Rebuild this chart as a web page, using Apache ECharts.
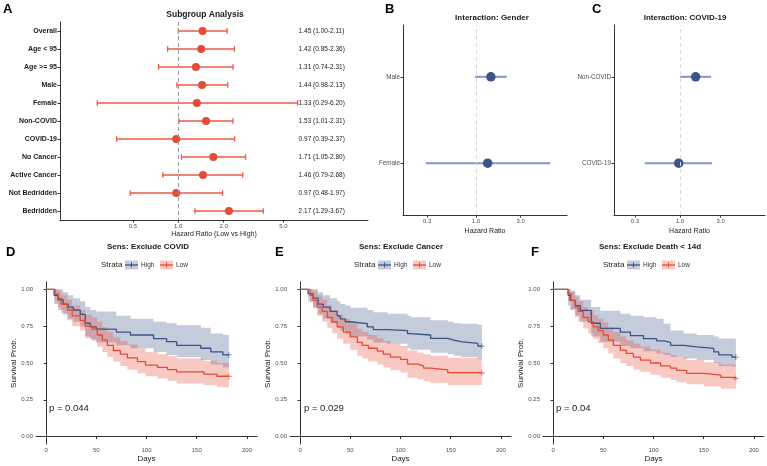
<!DOCTYPE html>
<html>
<head>
<meta charset="utf-8">
<script src="https://cdn.jsdelivr.net/npm/echarts@6/dist/echarts.min.js"></script>
<style>
  html, body { margin: 0; padding: 0; background: #fff; }
  #chart { width: 767px; height: 466px; }
</style>
</head>
<body>
<div id="chart"></div>
<script>
// ---------- A: subgroup forest plot ----------
const subgroups = ['Overall', 'Age < 95', 'Age >= 95', 'Male', 'Female', 'Non-COVID',
  'COVID-19', 'No Cancer', 'Active Cancer', 'Not Bedridden', 'Bedridden'];
const subHr = [1.45, 1.42, 1.31, 1.44, 1.33, 1.53, 0.97, 1.71, 1.46, 0.97, 2.17];
const subLo = [1.00, 0.85, 0.74, 0.98, 0.29, 1.01, 0.39, 1.05, 0.79, 0.48, 1.29];
const subHi = [2.11, 2.36, 2.31, 2.13, 6.20, 2.31, 2.37, 2.80, 2.68, 1.97, 3.67];
const subTicks = [0.5, 1, 2, 5];

// ---------- B: interaction gender ----------
const genderCats = ['Female', 'Male'];
const genderHr = [1.33, 1.44];
const genderLo = [0.29, 0.98];
const genderHi = [6.20, 2.13];

// ---------- C: interaction covid ----------
const covidCats = ['COVID-19', 'Non-COVID'];
const covidHr = [0.97, 1.53];
const covidLo = [0.39, 1.01];
const covidHi = [2.37, 2.31];
const interTicks = [0.3, 1, 3];

// ---------- D/E/F: Kaplan-Meier ----------
const dayTicks = [0, 50, 100, 150, 200];
const survTicks = [0, 0.25, 0.5, 0.75, 1];
const kmTitles = ['Sens: Exclude COVID', 'Sens: Exclude Cancer', 'Sens: Exclude Death < 14d'];
const kmPvalues = ['p = 0.044', 'p = 0.029', 'p = 0.04'];

// D - high / low
const dHighT  = [0, 8, 12, 17, 22, 27, 34, 39, 44, 50, 70, 84, 107, 120, 130, 154, 164, 176, 182];
const dHighS  = [1, 0.96, 0.93, 0.90, 0.88, 0.86, 0.83, 0.77, 0.745, 0.73, 0.71, 0.69, 0.665, 0.645, 0.62, 0.60, 0.575, 0.555, 0.555];
const dHighLo = [1, 0.90, 0.86, 0.83, 0.80, 0.78, 0.75, 0.68, 0.66, 0.64, 0.62, 0.60, 0.575, 0.555, 0.54, 0.52, 0.49, 0.47, 0.47];
const dHighUp = [1, 1, 1, 0.98, 0.96, 0.94, 0.92, 0.88, 0.86, 0.85, 0.82, 0.80, 0.78, 0.77, 0.757, 0.74, 0.70, 0.69, 0.69];
const dLowT  = [0, 9, 12, 15, 21, 26, 34, 39, 46, 51, 56, 61, 67, 74, 81, 91, 99, 111, 121, 130, 157, 170, 182];
const dLowS  = [1, 0.97, 0.94, 0.90, 0.86, 0.82, 0.79, 0.75, 0.73, 0.69, 0.655, 0.62, 0.585, 0.56, 0.535, 0.51, 0.485, 0.47, 0.455, 0.44, 0.425, 0.41, 0.41];
const dLowLo = [1, 0.92, 0.88, 0.84, 0.79, 0.75, 0.72, 0.67, 0.65, 0.61, 0.575, 0.54, 0.51, 0.48, 0.455, 0.43, 0.41, 0.395, 0.38, 0.36, 0.35, 0.335, 0.33];
const dLowUp = [1, 1, 0.99, 0.96, 0.93, 0.89, 0.86, 0.83, 0.81, 0.78, 0.745, 0.71, 0.675, 0.65, 0.625, 0.60, 0.575, 0.56, 0.545, 0.53, 0.515, 0.50, 0.50];

// E - high / low
const eHighT  = [0, 8, 13, 18, 23, 30, 37, 40, 45, 50, 67, 73, 87, 107, 110, 130, 147, 153, 160, 177, 181];
const eHighS  = [1, 0.97, 0.94, 0.90, 0.88, 0.85, 0.82, 0.80, 0.78, 0.767, 0.745, 0.727, 0.72, 0.70, 0.69, 0.667, 0.655, 0.645, 0.633, 0.615, 0.615];
const eHighLo = [1, 0.92, 0.88, 0.83, 0.80, 0.77, 0.74, 0.72, 0.70, 0.68, 0.66, 0.64, 0.63, 0.60, 0.59, 0.57, 0.56, 0.55, 0.54, 0.53, 0.53];
const eHighUp = [1, 1, 1, 0.98, 0.96, 0.94, 0.92, 0.90, 0.89, 0.875, 0.86, 0.845, 0.835, 0.82, 0.81, 0.79, 0.78, 0.77, 0.767, 0.76, 0.76];
const eLowT  = [0, 10, 13, 17, 22, 27, 32, 37, 43, 50, 57, 62, 68, 77, 83, 90, 100, 107, 117, 123, 130, 147, 181];
const eLowS  = [1, 0.96, 0.925, 0.88, 0.85, 0.81, 0.78, 0.745, 0.71, 0.677, 0.64, 0.62, 0.60, 0.58, 0.56, 0.54, 0.525, 0.493, 0.48, 0.465, 0.453, 0.435, 0.432];
const eLowLo = [1, 0.91, 0.87, 0.82, 0.78, 0.74, 0.70, 0.665, 0.63, 0.59, 0.55, 0.53, 0.51, 0.49, 0.47, 0.45, 0.435, 0.40, 0.39, 0.375, 0.365, 0.35, 0.345];
const eLowUp = [1, 1, 0.99, 0.96, 0.93, 0.89, 0.86, 0.83, 0.80, 0.77, 0.73, 0.71, 0.69, 0.67, 0.65, 0.63, 0.615, 0.585, 0.57, 0.56, 0.55, 0.535, 0.535];

// F - high / low
const fHighT  = [0, 15, 17, 22, 27, 38, 47, 67, 77, 90, 103, 110, 117, 130, 143, 160, 165, 178, 182];
const fHighS  = [1, 0.96, 0.925, 0.89, 0.857, 0.77, 0.735, 0.71, 0.686, 0.665, 0.65, 0.64, 0.62, 0.61, 0.60, 0.575, 0.555, 0.54, 0.54];
const fHighLo = [1, 0.89, 0.86, 0.82, 0.78, 0.68, 0.645, 0.615, 0.60, 0.58, 0.565, 0.555, 0.54, 0.53, 0.52, 0.50, 0.48, 0.475, 0.475];
const fHighUp = [1, 1, 0.99, 0.96, 0.93, 0.88, 0.855, 0.835, 0.82, 0.81, 0.80, 0.767, 0.72, 0.70, 0.69, 0.68, 0.667, 0.667, 0.667];
const fLowT  = [0, 15, 18, 22, 25, 30, 35, 40, 45, 50, 55, 60, 67, 73, 80, 87, 97, 107, 117, 123, 133, 150, 167, 182];
const fLowS  = [1, 0.97, 0.925, 0.88, 0.85, 0.81, 0.78, 0.745, 0.72, 0.69, 0.655, 0.62, 0.588, 0.565, 0.54, 0.52, 0.50, 0.48, 0.465, 0.45, 0.43, 0.418, 0.403, 0.396];
const fLowLo = [1, 0.92, 0.865, 0.81, 0.78, 0.735, 0.70, 0.665, 0.635, 0.60, 0.565, 0.53, 0.50, 0.48, 0.455, 0.44, 0.42, 0.40, 0.385, 0.37, 0.355, 0.34, 0.325, 0.318];
const fLowUp = [1, 1, 0.98, 0.95, 0.92, 0.88, 0.855, 0.825, 0.80, 0.775, 0.745, 0.71, 0.68, 0.655, 0.63, 0.61, 0.59, 0.57, 0.555, 0.54, 0.52, 0.505, 0.49, 0.485];

// ---------- style ----------
const FONT = '"Liberation Sans", Arial, sans-serif';
const RED = '#E64B35';
const BLUE = '#3C5488';
const BLUE_BAR = '#8197C9';
const BLUE_BAND = 'rgba(60,84,136,0.3)';
const RED_BAND = 'rgba(230,75,53,0.3)';
const AXIS = '#333333';
const TICK_TXT = '#4D4D4D';

const chart = echarts.init(document.getElementById('chart'));

function axisBase(grid) {
  return {
    gridIndex: grid,
    axisLine: { show: true, lineStyle: { color: AXIS, width: 1 } },
    splitLine: { show: false },
    minorTick: { show: false }
  };
}

function logX(grid, min, max, ticks, name, gap) {
  return Object.assign(axisBase(grid), {
    type: 'log', logBase: 10, min: min, max: max,
    name: name, nameLocation: 'middle', nameGap: gap,
    nameTextStyle: { fontSize: 7, color: '#222', fontFamily: FONT },
    axisTick: { show: true, length: 2.5, lineStyle: { color: AXIS }, customValues: ticks },
    axisLabel: { fontSize: 6, color: TICK_TXT, margin: 3, fontFamily: FONT,
      customValues: ticks, formatter: v => Number(v).toFixed(1) }
  });
}

function interY(grid, cats) {
  return Object.assign(axisBase(grid), {
    type: 'value', min: 0.4, max: 2.6,
    axisTick: { show: true, length: 2.5, lineStyle: { color: AXIS }, customValues: [1, 2] },
    axisLabel: { fontSize: 6.3, color: TICK_TXT, margin: 3, fontFamily: FONT,
      customValues: [1, 2], formatter: v => cats[Math.round(v) - 1] }
  });
}

function kmX(grid) {
  return Object.assign(axisBase(grid), {
    type: 'value', min: -10, max: 210,
    name: 'Days', nameLocation: 'middle', nameGap: 11,
    nameTextStyle: { fontSize: 8, color: '#222', fontFamily: FONT },
    axisTick: { show: true, length: 2.5, lineStyle: { color: AXIS }, customValues: dayTicks },
    axisLabel: { fontSize: 6, color: TICK_TXT, margin: 3, fontFamily: FONT, customValues: dayTicks }
  });
}

function kmY(grid) {
  return Object.assign(axisBase(grid), {
    type: 'value', min: -0.05, max: 1.05,
    name: 'Survival Prob.', nameLocation: 'middle', nameGap: 17, nameRotate: 90,
    nameTextStyle: { fontSize: 8, color: '#222', fontFamily: FONT },
    axisTick: { show: true, length: 2.5, lineStyle: { color: AXIS }, customValues: survTicks },
    axisLabel: { fontSize: 6, color: TICK_TXT, margin: 3, fontFamily: FONT,
      customValues: survTicks, formatter: v => Number(v).toFixed(2) }
  });
}

function errorBars(grid, lo, hi, pos, color, width, cap) {
  return {
    type: 'custom', xAxisIndex: grid, yAxisIndex: grid, silent: true, z: 2,
    encode: { x: [0, 1], y: 2 },
    data: lo.map((v, i) => [v, hi[i], pos[i]]),
    renderItem: function (params, api) {
      const y = api.value(2);
      const a = api.coord([api.value(0), y]);
      const b = api.coord([api.value(1), y]);
      const st = { stroke: color, lineWidth: width };
      const kids = [{ type: 'line', shape: { x1: a[0], y1: a[1], x2: b[0], y2: b[1] }, style: st }];
      if (cap) {
        kids.push({ type: 'line', shape: { x1: a[0], y1: a[1] - cap, x2: a[0], y2: a[1] + cap }, style: st });
        kids.push({ type: 'line', shape: { x1: b[0], y1: b[1] - cap, x2: b[0], y2: b[1] + cap }, style: st });
      }
      return { type: 'group', children: kids };
    }
  };
}

function refLine(color) {
  return {
    silent: true, symbol: ['none', 'none'], label: { show: false },
    lineStyle: { color: color, type: [4, 3], width: 1 },
    data: [{ xAxis: 1 }]
  };
}

// step-shaped confidence band, drawn as one polygon from the first data item
function stepBand(ax, t, lo, up, fill) {
  return {
    type: 'custom', xAxisIndex: ax, yAxisIndex: ax, silent: true, z: 1,
    encode: { x: 0, y: [1, 2] },
    data: t.map((v, i) => [v, lo[i], up[i]]),
    renderItem: function (params, api) {
      if (params.dataIndex !== 0) return null;
      const n = params.dataInsideLength;
      const top = [], bot = [];
      for (let i = 0; i < n; i++) {
        const x0 = api.value(0, i);
        const x1 = i < n - 1 ? api.value(0, i + 1) : x0;
        top.push(api.coord([x0, api.value(2, i)]), api.coord([x1, api.value(2, i)]));
        bot.push(api.coord([x0, api.value(1, i)]), api.coord([x1, api.value(1, i)]));
      }
      return { type: 'polygon', shape: { points: top.concat(bot.reverse()) }, style: { fill: fill } };
    }
  };
}

// ---------- series ----------
const series = [];

// A
const subPos = subgroups.map((s, i) => i);
series.push(errorBars(0, subLo, subHi, subPos, '#EE5A45', 1.3, 2.8));
series.push({
  type: 'scatter', xAxisIndex: 0, yAxisIndex: 0, symbolSize: 8, z: 3,
  itemStyle: { color: RED, opacity: 1 },
  data: subHr.map((v, i) => [v, i]),
  markLine: refLine('#9A9A9A')
});
series.push({
  type: 'custom', xAxisIndex: 0, yAxisIndex: 0, silent: true,
  encode: { x: 0, y: 1 },
  data: subgroups.map((s, i) => [6.3, i]),
  renderItem: function (params, api) {
    const p = api.coord([api.value(0), api.value(1)]);
    const i = params.dataIndex;
    const txt = subHr[i].toFixed(2) + ' (' + subLo[i].toFixed(2) + '-' + subHi[i].toFixed(2) + ')';
    return { type: 'text', x: p[0], y: p[1],
      style: { text: txt, font: '6.5px ' + FONT, fill: '#222',
        align: 'left', verticalAlign: 'middle', textAlign: 'left', textVerticalAlign: 'middle' } };
  }
});

// B
series.push(errorBars(1, genderLo, genderHi, genderCats.map((c, i) => i + 1), BLUE_BAR, 2, 0));
series.push({
  type: 'scatter', xAxisIndex: 1, yAxisIndex: 1, symbolSize: 9.5, z: 3,
  itemStyle: { color: BLUE, opacity: 1 },
  data: genderHr.map((v, i) => [v, i + 1]),
  markLine: refLine('#DADADA')
});

// C
series.push(errorBars(2, covidLo, covidHi, covidCats.map((c, i) => i + 1), BLUE_BAR, 2, 0));
series.push({
  type: 'scatter', xAxisIndex: 2, yAxisIndex: 2, symbolSize: 9.5, z: 3,
  itemStyle: { color: BLUE, opacity: 1 },
  data: covidHr.map((v, i) => [v, i + 1]),
  markLine: refLine('#DADADA')
});

// D/E/F
const kmPanels = [
  { high: { t: dHighT, s: dHighS, lo: dHighLo, up: dHighUp }, low: { t: dLowT, s: dLowS, lo: dLowLo, up: dLowUp } },
  { high: { t: eHighT, s: eHighS, lo: eHighLo, up: eHighUp }, low: { t: eLowT, s: eLowS, lo: eLowLo, up: eLowUp } },
  { high: { t: fHighT, s: fHighS, lo: fHighLo, up: fHighUp }, low: { t: fLowT, s: fLowS, lo: fLowLo, up: fLowUp } }
];
const strata = [['High', 'high', BLUE, BLUE_BAND], ['Low', 'low', RED, RED_BAND]];
const CROSS = 'path://M4.3,0H5.7V4.3H10V5.7H5.7V10H4.3V5.7H0V4.3H4.3Z';

kmPanels.forEach((p, k) => {
  const ax = 3 + k;
  strata.forEach(([name, key, col, band]) => {
    const c = p[key];
    series.push(stepBand(ax, c.t, c.lo, c.up, band));
  });
  strata.forEach(([name, key, col]) => {
    const c = p[key];
    const n = c.t.length - 1;
    series.push({
      type: 'line', name: name, xAxisIndex: ax, yAxisIndex: ax, step: 'end',
      symbol: 'none', silent: true, z: 3, lineStyle: { color: col, width: 1.3 },
      data: c.t.map((t, i) => [t, c.s[i]])
    });
    series.push({
      type: 'scatter', name: name, xAxisIndex: ax, yAxisIndex: ax, silent: true, z: 4,
      symbol: CROSS, symbolSize: 6, itemStyle: { color: col },
      data: [[c.t[n], c.s[n]]]
    });
  });
});

// ---------- annotations ----------
function txt(s, x, y, size, opts) {
  opts = opts || {};
  return {
    type: 'text', x: x, y: y, silent: true,
    style: {
      text: s, font: (opts.bold ? 'bold ' : '') + size + 'px ' + FONT,
      fill: opts.color || '#1a1a1a',
      textAlign: opts.align || 'left', textVerticalAlign: opts.valign || 'middle',
      align: opts.align || 'left', verticalAlign: opts.valign || 'middle'
    }
  };
}

function legendKey(x, cy, fill, stroke) {
  return [
    { type: 'rect', silent: true, shape: { x: x, y: cy - 4.5, width: 13, height: 9 }, style: { fill: fill } },
    { type: 'line', silent: true, shape: { x1: x, y1: cy, x2: x + 13, y2: cy }, style: { stroke: stroke, lineWidth: 1.3 } },
    { type: 'line', silent: true, shape: { x1: x + 6.5, y1: cy - 2.5, x2: x + 6.5, y2: cy + 2.5 }, style: { stroke: stroke, lineWidth: 1 } }
  ];
}

const graphics = [
  txt('A', 3, 3, 13, { bold: true, valign: 'top', color: '#000' }),
  txt('B', 385, 3, 13, { bold: true, valign: 'top', color: '#000' }),
  txt('C', 592, 3, 13, { bold: true, valign: 'top', color: '#000' }),
  txt('D', 6, 246, 13, { bold: true, valign: 'top', color: '#000' }),
  txt('E', 275, 246, 13, { bold: true, valign: 'top', color: '#000' }),
  txt('F', 531, 246, 13, { bold: true, valign: 'top', color: '#000' }),
  txt('Subgroup Analysis', 205, 15, 8.5, { bold: true, align: 'center' }),
  txt('Interaction: Gender', 492, 18, 8, { bold: true, align: 'center' }),
  txt('Interaction: COVID-19', 685, 18, 8, { bold: true, align: 'center' })
];
const kmCenters = [148, 401, 650];
const kmPx = [49, 304, 556];
kmTitles.forEach((t, k) => {
  const cx = kmCenters[k];
  graphics.push(txt(t, cx, 247, 8, { bold: true, align: 'center' }));
  graphics.push(txt('Strata', cx - 47, 265, 8, { color: '#222' }));
  graphics.push(...legendKey(cx - 23, 265, BLUE_BAND, BLUE));
  graphics.push(txt('High', cx - 7, 265, 6.5, { color: '#333' }));
  graphics.push(...legendKey(cx + 12, 265, RED_BAND, RED));
  graphics.push(txt('Low', cx + 28, 265, 6.5, { color: '#333' }));
  graphics.push(txt(kmPvalues[k], kmPx[k], 408, 9.5, { color: '#222' }));
});

const option = {
  animation: false,
  backgroundColor: '#ffffff',
  textStyle: { fontFamily: FONT },
  grid: [
    { left: 60, top: 22, width: 308, height: 198, outerBoundsMode: 'none' },
    { left: 403, top: 25, width: 164, height: 190, outerBoundsMode: 'none' },
    { left: 614, top: 25, width: 151, height: 190, outerBoundsMode: 'none' },
    { left: 36, top: 282, width: 221, height: 162, outerBoundsMode: 'none' },
    { left: 290, top: 282, width: 221, height: 162, outerBoundsMode: 'none' },
    { left: 543, top: 282, width: 221, height: 162, outerBoundsMode: 'none' }
  ],
  xAxis: [
    logX(0, 0.164, 18.2, subTicks, 'Hazard Ratio (Low vs High)', 11),
    logX(1, 0.166, 9.36, interTicks, 'Hazard Ratio', 13),
    logX(2, 0.171, 9.84, interTicks, 'Hazard Ratio', 13),
    kmX(3), kmX(4), kmX(5)
  ],
  yAxis: [
    Object.assign(axisBase(0), {
      type: 'category', data: subgroups, inverse: true,
      axisTick: { show: true, length: 2.5, alignWithLabel: true, lineStyle: { color: AXIS } },
      axisLabel: { fontSize: 7, fontWeight: 'bold', color: '#1a1a1a', margin: 3, fontFamily: FONT }
    }),
    interY(1, genderCats),
    interY(2, covidCats),
    kmY(3), kmY(4), kmY(5)
  ],
  series: series,
  graphic: graphics
};

chart.setOption(option);
window.addEventListener('resize', chart.resize);
</script>
</body>
</html>
